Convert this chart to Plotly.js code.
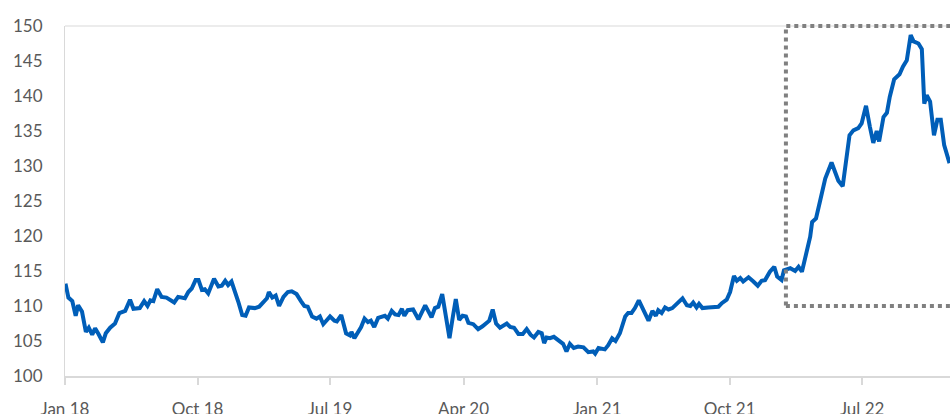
<!DOCTYPE html>
<html>
<head>
<meta charset="utf-8">
<script src="https://cdn.plot.ly/plotly-3.0.1.min.js"></script>
<style>
  html, body { margin: 0; padding: 0; background: #ffffff; }
  #chart { width: 950px; height: 414px; }
</style>
</head>
<body>
<div id="chart"></div>
<script>
// Weekly index readings, January 2018 to December 2022
const dates = [
  '2018-01-02','2018-01-08','2018-01-16','2018-01-23','2018-01-28','2018-02-05','2018-02-13','2018-02-19','2018-02-26','2018-03-04',
  '2018-03-11','2018-03-20','2018-03-26','2018-04-04','2018-04-14','2018-04-23','2018-05-05','2018-05-15','2018-05-22','2018-06-04',
  '2018-06-13','2018-06-20','2018-06-26','2018-07-02','2018-07-10','2018-07-19','2018-07-29','2018-08-14','2018-08-22','2018-09-05',
  '2018-09-12','2018-09-19','2018-09-27','2018-10-03','2018-10-10','2018-10-16','2018-10-23','2018-11-04','2018-11-13','2018-11-20',
  '2018-11-27','2018-12-03','2018-12-10','2018-12-17','2018-12-24',
  '2019-01-01','2019-01-08','2019-01-15','2019-01-27','2019-02-05','2019-02-14','2019-02-21','2019-02-25','2019-03-04','2019-03-11',
  '2019-03-18','2019-03-27','2019-04-05','2019-04-13','2019-04-23','2019-05-02','2019-05-09','2019-05-16','2019-05-25','2019-06-03',
  '2019-06-10','2019-06-17','2019-07-01','2019-07-10','2019-07-15','2019-07-24','2019-08-03','2019-08-11','2019-08-14','2019-08-20',
  '2019-09-03','2019-09-10','2019-09-17','2019-09-23','2019-09-30','2019-10-08','2019-10-22','2019-10-28','2019-11-05','2019-11-12',
  '2019-11-19','2019-11-26','2019-12-01','2019-12-08','2019-12-19','2019-12-30',
  '2020-01-13','2020-01-19','2020-01-26','2020-02-02','2020-02-09','2020-02-17','2020-02-24','2020-03-03','2020-03-10','2020-03-16',
  '2020-03-23','2020-03-30','2020-04-06','2020-04-11','2020-04-21','2020-05-01','2020-05-10','2020-05-19','2020-05-24','2020-05-31',
  '2020-06-07','2020-06-15','2020-06-21','2020-06-29','2020-07-06','2020-07-14','2020-07-23','2020-08-01','2020-08-09','2020-08-17',
  '2020-08-24','2020-09-02','2020-09-09','2020-09-14','2020-09-19','2020-09-26','2020-10-04','2020-10-13','2020-10-23','2020-10-30',
  '2020-11-06','2020-11-14','2020-11-23','2020-12-04','2020-12-14','2020-12-24','2020-12-28',
  '2021-01-04','2021-01-17','2021-01-24','2021-02-01','2021-02-08','2021-02-17','2021-02-28','2021-03-06','2021-03-13','2021-03-20',
  '2021-03-28','2021-04-08','2021-04-17','2021-04-25','2021-05-02','2021-05-07','2021-05-14','2021-05-21','2021-05-28','2021-06-05',
  '2021-06-14','2021-06-26','2021-07-05','2021-07-12','2021-07-18','2021-07-25','2021-07-30','2021-08-06','2021-08-18','2021-08-28',
  '2021-09-08','2021-09-15','2021-09-25','2021-10-02','2021-10-10','2021-10-16','2021-10-23','2021-10-29','2021-11-09','2021-11-19',
  '2021-11-28','2021-12-06','2021-12-13','2021-12-23',
  '2022-01-01','2022-01-07','2022-01-16','2022-01-21','2022-02-03','2022-02-13','2022-02-20','2022-02-27','2022-03-09','2022-03-16',
  '2022-03-20','2022-03-28','2022-04-05','2022-04-16','2022-04-29','2022-05-13','2022-05-22','2022-05-29','2022-06-05','2022-06-13',
  '2022-06-23','2022-06-30','2022-07-09','2022-07-17','2022-07-24','2022-07-31','2022-08-05','2022-08-14','2022-08-21','2022-08-27',
  '2022-09-05','2022-09-16','2022-09-23','2022-10-01','2022-10-09','2022-10-15','2022-10-25','2022-11-01','2022-11-06','2022-11-11',
  '2022-11-18','2022-11-26','2022-12-03','2022-12-10','2022-12-17','2022-12-28'
];

const values = [
  113.2,111.2,110.7,108.6,110.1,109.2,106.3,106.9,105.9,106.8,
  106.0,104.8,106.1,106.9,107.5,109.0,109.3,110.9,109.6,109.7,
  110.7,110.0,110.8,110.7,112.4,111.3,111.2,110.5,111.3,111.1,
  112.0,112.5,113.7,113.7,112.3,112.4,111.8,113.9,112.8,112.9,
  113.6,113.0,113.5,111.8,110.6,
  108.7,108.6,109.8,109.7,109.9,110.7,111.1,112.0,111.2,111.5,
  110.0,111.3,112.0,112.1,111.7,110.7,110.0,109.9,108.5,108.2,
  108.5,107.4,108.5,107.9,107.8,108.7,106.1,105.8,106.3,105.4,
  107.0,108.2,107.7,107.9,107.0,108.3,108.6,108.2,109.3,108.8,
  108.7,109.6,108.6,109.4,109.5,108.1,
  110.1,109.3,108.4,109.7,109.9,111.7,109.0,105.4,108.5,111.0,
  108.0,108.6,108.5,107.6,107.4,106.7,107.1,107.6,107.9,109.5,
  107.5,106.9,107.1,107.5,107.0,106.9,106.0,106.0,106.7,105.9,
  105.5,106.3,106.1,104.7,105.5,105.4,105.6,105.1,104.6,103.5,
  104.6,104.0,104.2,104.1,103.4,103.5,103.2,
  104.0,103.8,104.4,105.4,105.0,106.1,108.5,109.0,109.0,109.7,
  110.8,109.2,107.9,109.3,108.6,109.4,109.0,109.8,109.5,109.7,
  110.3,111.1,110.1,110.0,110.5,109.8,110.3,109.7,109.8,109.8,
  109.9,110.4,110.9,112.0,114.3,113.6,114.0,113.5,114.1,113.5,
  112.9,113.6,113.7,114.9,
  115.6,114.2,113.7,115.1,115.4,115.0,115.6,114.9,118.2,119.9,
  122.0,122.5,124.9,128.2,130.5,127.9,127.1,130.9,134.4,135.1,
  135.4,136.1,138.6,135.6,133.3,135.0,133.5,137.0,137.6,139.9,
  142.4,143.1,144.2,145.1,148.7,147.8,147.5,146.7,138.9,140.1,
  139.2,134.4,136.6,136.6,133.0,130.4
];

// Axis ticks
const xTickDates  = ['2018-01-01','2018-10-01','2019-07-01','2020-04-01','2021-01-01','2021-10-01','2022-07-01'];
const xTickLabels = ['Jan 18','Oct 18','Jul 19','Apr 20','Jan 21','Oct 21','Jul 22'];
const yTicks = [100,105,110,115,120,125,130,135,140,145,150];

// Highlighted period (dotted frame)
const highlightStart = '2022-01-25';
const highlightEnd = '2023-03-01';
const highlightFloor = 110;

const xRange = ['2018-01-01', '2022-12-29'];
const yRange = [100, 150];

const grey = '#595959';
const axisGrey = '#d9d9d9';
const fontFamily = 'Lato, "Open Sans", sans-serif';

const trace = {
  type: 'scatter',
  mode: 'lines',
  x: dates,
  y: values,
  line: { color: '#005eb8', width: 4 },
  hoverinfo: 'x+y'
};

const layout = {
  width: 950,
  height: 414,
  margin: { l: 65, r: 0, t: 26, b: 38, pad: 0 },
  paper_bgcolor: '#ffffff',
  plot_bgcolor: '#ffffff',
  showlegend: false,
  font: { family: fontFamily, size: 17, color: grey },
  xaxis: {
    type: 'date',
    range: xRange,
    tickmode: 'array',
    tickvals: xTickDates,
    ticktext: xTickLabels,
    showgrid: false,
    zeroline: false,
    showline: true,
    linecolor: axisGrey,
    linewidth: 2,
    ticks: 'outside',
    ticklen: 7,
    tickwidth: 2,
    tickcolor: axisGrey,
    ticklabelstandoff: 10,
    tickfont: { family: fontFamily, size: 17, color: grey },
    fixedrange: true
  },
  yaxis: {
    range: yRange,
    tickmode: 'array',
    tickvals: yTicks,
    ticktext: yTicks.map(String),
    showgrid: false,
    zeroline: false,
    showline: true,
    linecolor: axisGrey,
    linewidth: 1,
    ticks: '',
    ticklabelstandoff: 18,
    tickfont: { family: fontFamily, size: 17, color: grey },
    fixedrange: true
  },
  shapes: [
    // top border of the plot area
    {
      type: 'line', xref: 'paper', yref: 'paper',
      x0: 0, x1: 1, y0: 1, y1: 1,
      line: { color: axisGrey, width: 1 },
      layer: 'below'
    },
    // dotted frame around the latest surge
    {
      type: 'rect', xref: 'x', yref: 'paper',
      x0: highlightStart, x1: highlightEnd,
      y0: (highlightFloor - yRange[0]) / (yRange[1] - yRange[0]),
      y1: 1,
      line: { color: '#808080', width: 4, dash: '4px,4px' },
      fillcolor: 'rgba(0,0,0,0)',
      layer: 'above'
    }
  ]
};

Plotly.newPlot('chart', [trace], layout, { displayModeBar: false, staticPlot: true });
</script>
</body>
</html>
